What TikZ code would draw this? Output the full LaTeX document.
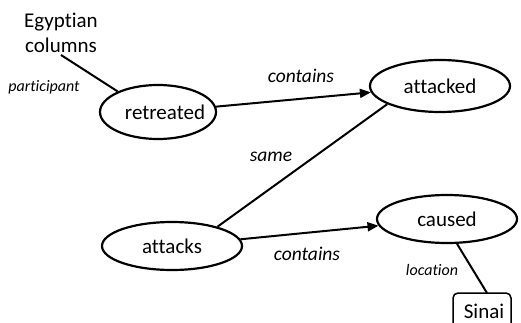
\documentclass[tikz,border=0pt]{standalone}
\usepackage{fontspec}
\setmainfont{Carlito}[Ligatures=NoCommon]
\usetikzlibrary{shapes.geometric,arrows.meta}
\begin{document}
\begin{tikzpicture}[x=1pt,y=-1pt,
 ev/.style={draw,ellipse,line width=2.2pt,inner sep=0pt,font=\fontsize{21}{25}\selectfont},
 lbl/.style={inner sep=0pt,font=\fontsize{19.5}{23}\selectfont\itshape},
 sml/.style={inner sep=0pt,font=\fontsize{16}{18}\selectfont\itshape},
 edge/.style={line width=2pt},
 arr/.style={edge,-{Triangle[length=11pt,width=9pt]}}]
\useasboundingbox (0,0) rectangle (521,323);
\clip (0,0) rectangle (521,323);
\node[ev,inner xsep=-8pt,minimum width=116pt,minimum height=54pt] (retreated) at (158,112) {\hspace*{14pt}retreated};
\node[ev,minimum width=140pt,minimum height=52pt] (attacked) at (440,86) {attacked};
\node[ev,minimum width=140pt,minimum height=48pt] (attacks) at (172,246) {attacks};
\node[ev,minimum width=140pt,minimum height=48pt] (caused) at (447,219) {caused};
\node[inner sep=1pt,font=\fontsize{21}{25}\selectfont] (sinai) at (484,311) {Sinai};
\draw[line width=1.5pt,rounded corners=5pt] (453,330) |- (511,293) -- (511,330);
\coordinate (sinaitop) at (487,293);
\node[align=center,inner sep=2pt,font=\fontsize{21}{25}\selectfont] (eg) at (61,33) {Egyptian\\columns};
\draw[edge] (eg.south) -- (retreated.153);
\draw[arr] (retreated) -- (attacked);
\draw[edge] (attacked.199) -- (attacks.23);
\draw[arr] (attacks) -- (caused);
\draw[edge] (caused.292) -- (sinaitop);
\node[sml] (lp) at (44,87) {participant};
\node[lbl] (lc1) at (301,76) {contains};
\node[lbl] (ls) at (271,157) {same};
\node[lbl] (lc2) at (307,254) {contains};
\node[sml] (ll) at (432,270) {location};
\end{tikzpicture}
\end{document}
